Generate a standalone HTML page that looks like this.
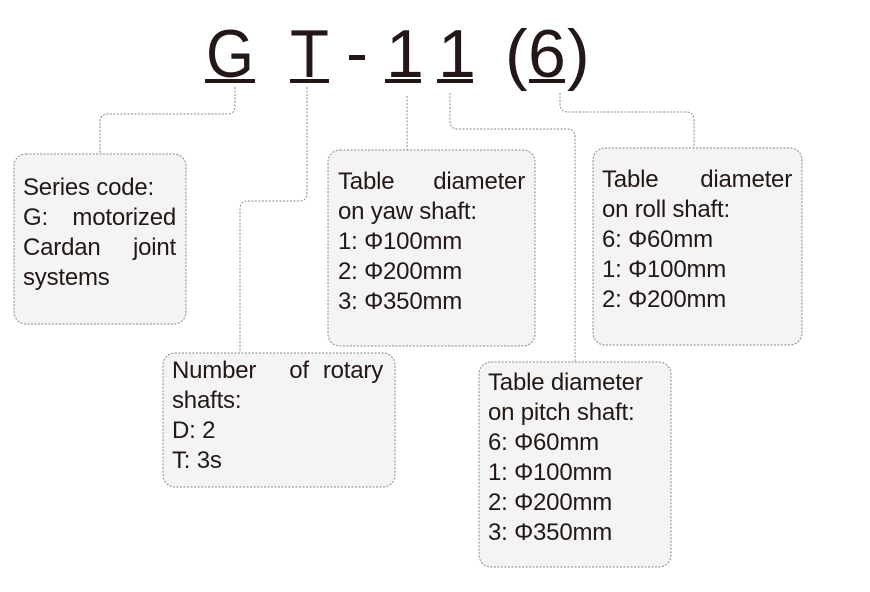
<!DOCTYPE html>
<html><head><meta charset="utf-8"><style>
html,body{margin:0;padding:0;background:#fff;}
svg{display:block}
text{font-family:"Liberation Sans",Arial,sans-serif;fill:#231815;}
.t{font-size:24px;letter-spacing:-0.2px}
.b{fill:#f4f4f4;stroke:#8a8a8a;stroke-width:1;stroke-dasharray:2 1.5}
.c{fill:none;stroke:#8a8a8a;stroke-width:1;stroke-dasharray:2 1.5}
</style></head><body>
<svg width="870" height="592" viewBox="0 0 870 592" xmlns="http://www.w3.org/2000/svg">
<g style="font-size:68px">
<text x="206" y="77" textLength="48" lengthAdjust="spacingAndGlyphs">G</text>
<text x="290" y="77" textLength="39" lengthAdjust="spacingAndGlyphs">T</text>
<text x="386" y="77">1</text>
<text x="438" y="77">1</text>
<text x="505" y="77">(</text>
<text x="528" y="77">6</text>
<text x="567" y="77">)</text>
</g>
<g fill="#231815">
<rect x="349" y="55" width="16" height="5"/>
<rect x="205" y="79" width="50" height="4"/>
<rect x="290" y="79" width="39" height="4"/>
<rect x="385" y="79" width="36" height="4"/>
<rect x="437" y="79" width="36" height="4"/>
<rect x="529" y="79" width="36" height="4"/>
</g>
<path class="c" d="M235 87 V106 Q235 114 227 114 H108 Q100 114 100 122 V154"/>
<path class="c" d="M307 87 V193 Q307 201 299 201 H248 Q240 201 240 209 V352"/>
<path class="c" d="M407 96 V150"/>
<path class="c" d="M450 93 V121 Q450 129 458 129 H567 Q575 129 575 137 V362"/>
<path class="c" d="M560 93 V104 Q560 112 568 112 H686 Q694 112 694 120 V148"/>
<rect class="b" x="14" y="154" width="172" height="170" rx="12"/>
<rect class="b" x="328" y="150" width="207" height="196" rx="12"/>
<rect class="b" x="593" y="148" width="209" height="197" rx="12"/>
<rect class="b" x="163" y="353" width="232" height="134" rx="12"/>
<rect class="b" x="479" y="362" width="192" height="205" rx="12"/>
<g class="t">
<text x="23" y="195">Series code:</text>
<text x="23" y="225">G:</text><text x="176" y="225" text-anchor="end">motorized</text>
<text x="23" y="255">Cardan</text><text x="176" y="255" text-anchor="end">joint</text>
<text x="23" y="285">systems</text>

<text x="338" y="189">Table</text><text x="525" y="189" text-anchor="end">diameter</text>
<text x="338" y="219">on yaw shaft:</text>
<text x="338" y="249">1: Φ100mm</text>
<text x="338" y="279">2: Φ200mm</text>
<text x="338" y="309">3: Φ350mm</text>

<text x="602" y="187">Table</text><text x="792" y="187" text-anchor="end">diameter</text>
<text x="602" y="217">on roll shaft:</text>
<text x="602" y="247">6: Φ60mm</text>
<text x="602" y="277">1: Φ100mm</text>
<text x="602" y="307">2: Φ200mm</text>

<text x="172" y="378">Number</text><text x="299" y="378" text-anchor="middle">of</text><text x="383" y="378" text-anchor="end">rotary</text>
<text x="172" y="408">shafts:</text>
<text x="172" y="438">D: 2</text>
<text x="172" y="468">T: 3s</text>

<text x="488" y="390">Table diameter</text>
<text x="488" y="420">on pitch shaft:</text>
<text x="488" y="450">6: Φ60mm</text>
<text x="488" y="480">1: Φ100mm</text>
<text x="488" y="510">2: Φ200mm</text>
<text x="488" y="540">3: Φ350mm</text>
</g>
</svg>
</body></html>
